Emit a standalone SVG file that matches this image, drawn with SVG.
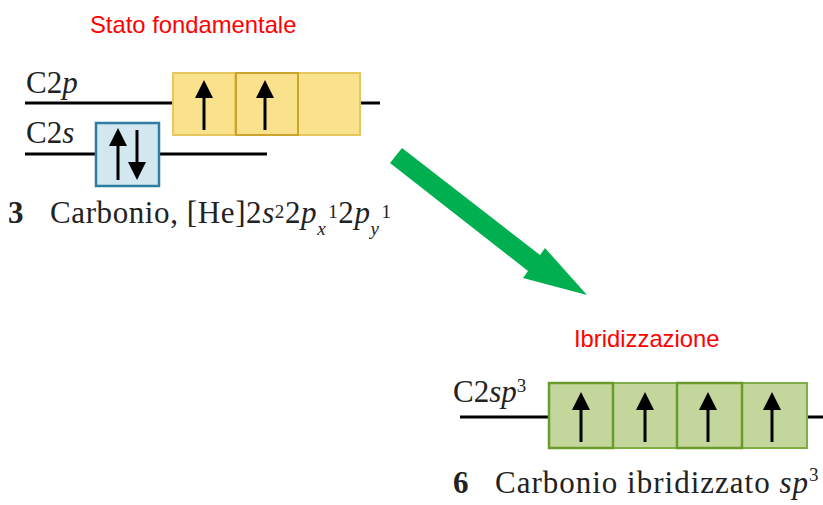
<svg xmlns="http://www.w3.org/2000/svg" width="823" height="505" viewBox="0 0 823 505">
<defs>
<marker id="ah" viewBox="0 0 18 18" markerWidth="18" markerHeight="18" refX="2" refY="9" orient="auto" markerUnits="userSpaceOnUse"><path d="M0,0 L18,9 L0,18 z" fill="#000"/></marker>
</defs>
<style>
.lvl{stroke:#000;stroke-width:3;fill:none}
.e{stroke:#000;stroke-width:3;marker-end:url(#ah)}
.yb{fill:#FAE28C;stroke:#E6C75E;stroke-width:2}
.yb2{fill:none;stroke:#C9A42E;stroke-width:2}
.bb{fill:#D3E7F0;stroke:#2F7DA3;stroke-width:2.5}
.gb{fill:#C3D69B;stroke:#7FAE48;stroke-width:2}
.gb2{fill:none;stroke:#6A9B2C;stroke-width:2.5}
.lab{font-family:"Liberation Serif","Times New Roman",serif;font-size:31px;fill:#222}
.cap{font-family:"Liberation Serif","Times New Roman",serif;font-size:31px;fill:#222;letter-spacing:0.6px}
.red{font-family:"Liberation Sans",Arial,sans-serif;font-size:23.8px;fill:#FF0000}
.it{font-style:italic}
.sm{font-size:19px}
</style>
<rect width="823" height="505" fill="#fff"/>
<text id="title1" class="red" x="90" y="33">Stato fondamentale</text>
<g id="C2p">
<line class="lvl" x1="25" y1="103" x2="380" y2="103"/>
<rect class="yb" x="173" y="73" width="187" height="62"/>
<line x1="235" y1="73" x2="235" y2="135" stroke="#E6C75E" stroke-width="2"/>
<line x1="298" y1="73" x2="298" y2="135" stroke="#E6C75E" stroke-width="2"/>
<rect class="yb2" x="236" y="73" width="62" height="62"/>
<line class="e" x1="204" y1="130" x2="204" y2="96"/>
<line class="e" x1="265" y1="130" x2="265" y2="96"/>
<text class="lab" x="26" y="93">C2<tspan class="it">p</tspan></text>
</g>
<g id="C2s">
<line class="lvl" x1="25" y1="154" x2="267" y2="154"/>
<rect class="bb" x="96" y="123" width="63" height="63"/>
<line class="e" x1="118" y1="180" x2="118" y2="144"/>
<line class="e" x1="137" y1="130" x2="137" y2="164"/>
<text class="lab" x="26" y="143">C2<tspan class="it">s</tspan></text>
</g>
<text id="caption1" class="cap" x="8" y="223"><tspan font-weight="bold">3</tspan><tspan x="50">Carbonio, [He]2</tspan><tspan class="it">s</tspan><tspan class="sm" y="218">2</tspan><tspan y="223">2</tspan><tspan class="it">p</tspan><tspan class="sm it" y="235">x</tspan><tspan class="sm" dx="2" y="218">1</tspan><tspan y="223">2</tspan><tspan class="it">p</tspan><tspan class="sm it" y="235">y</tspan><tspan class="sm" dx="2" y="218">1</tspan></text>
<g id="connectors">
<polygon id="transition" fill="#00B050" points="390,163 528,271 523,278 587,295 545,248 540,255 402,148"/>
</g>
<text id="title2" class="red" x="574" y="347">Ibridizzazione</text>
<g id="C2sp3">
<line class="lvl" x1="460" y1="417" x2="823" y2="417"/>
<rect class="gb" x="549" y="383" width="258" height="65"/>
<line x1="613" y1="383" x2="613" y2="448" stroke="#7FAE48" stroke-width="2"/>
<line x1="742" y1="383" x2="742" y2="448" stroke="#7FAE48" stroke-width="2"/>
<rect class="gb2" x="549" y="383" width="64" height="65"/>
<rect class="gb2" x="677" y="383" width="65" height="65"/>
<line class="e" x1="581" y1="442" x2="581" y2="408"/>
<line class="e" x1="645" y1="442" x2="645" y2="408"/>
<line class="e" x1="708" y1="442" x2="708" y2="408"/>
<line class="e" x1="772" y1="442" x2="772" y2="408"/>
<text class="lab" x="453" y="402">C2<tspan class="it">sp</tspan><tspan class="sm" y="392">3</tspan></text>
</g>
<text id="caption2" class="cap" x="453" y="493" style="letter-spacing:1px"><tspan font-weight="bold">6</tspan><tspan x="495">Carbonio ibridizzato </tspan><tspan class="it">sp</tspan><tspan class="sm" y="481">3</tspan></text>
</svg>
